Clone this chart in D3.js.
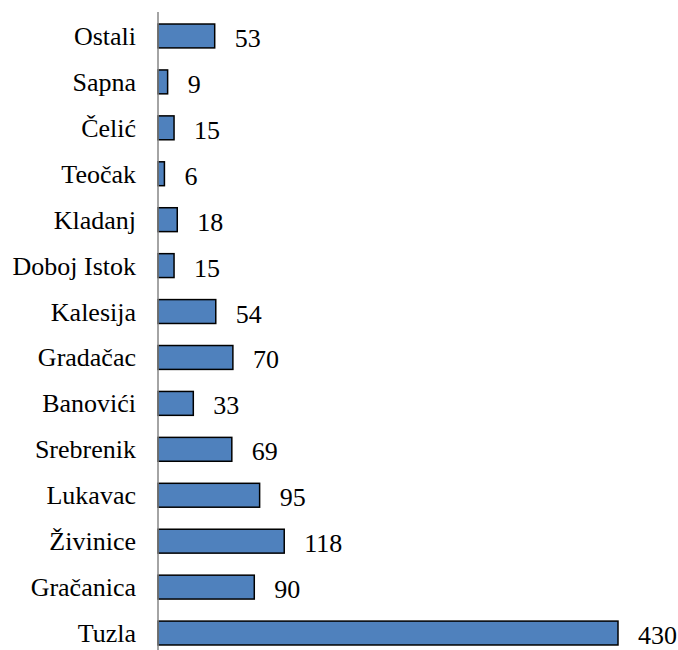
<!DOCTYPE html>
<html><head><meta charset="utf-8">
<script src="https://cdn.jsdelivr.net/npm/d3@7"></script>
<style>
@font-face{font-family:"ChartSerif";src:local("Liberation Serif"),local("LiberationSerif"),local("Liberation Serif Regular"),local("LiberationSerif-Regular");}
body{margin:0;background:#fff;font-family:"ChartSerif","Liberation Serif",serif}
</style>
</head><body>
<script>
const categories = ["Ostali","Sapna","Čelić","Teočak","Kladanj","Doboj Istok","Kalesija","Gradačac","Banovići","Srebrenik","Lukavac","Živinice","Gračanica","Tuzla"];
const values = [53,9,15,6,18,15,54,70,33,69,95,118,90,430];

const W = 678, H = 650;
const svg = d3.select("body").append("svg").attr("width", W).attr("height", H)
  .attr("font-family", "ChartSerif, Liberation Serif, serif");
const x = d3.scaleLinear().domain([0, 430]).range([158, 618]);
const y = d3.scaleBand().domain(categories).range([13, 656]).paddingInner(0.48).paddingOuter(0.24);

const data = categories.map((c, i) => ({c, v: values[i]}));

svg.selectAll("rect").data(data).join("rect")
  .attr("x", x(0)).attr("y", d => y(d.c))
  .attr("width", d => x(d.v) - x(0)).attr("height", y.bandwidth())
  .attr("fill", "#4F81BD").attr("stroke", "#000").attr("stroke-width", 1.5);

svg.append("line").attr("x1", x(0)).attr("x2", x(0)).attr("y1", 12).attr("y2", H)
  .attr("stroke", "#868686").attr("stroke-width", 1.5);

const gc = svg.append("g");
gc.selectAll("text").data(data).join("text")
  .attr("x", x(0) - 22).attr("y", d => y(d.c) + y.bandwidth()/2 + 9)
  .attr("text-anchor", "end")
  .attr("font-family", () => "Liberation Serif")
  .attr("font-size", 26).text(d => d.c);

const gv = svg.append("g");
gv.selectAll("text").data(data).join("text")
  .attr("x", d => x(d.v) + 20).attr("y", d => y(d.c) + y.bandwidth()/2 + 11)
  .attr("font-family", () => "Liberation Serif")
  .attr("font-size", 26).text(d => d.v);
</script>
</body></html>
